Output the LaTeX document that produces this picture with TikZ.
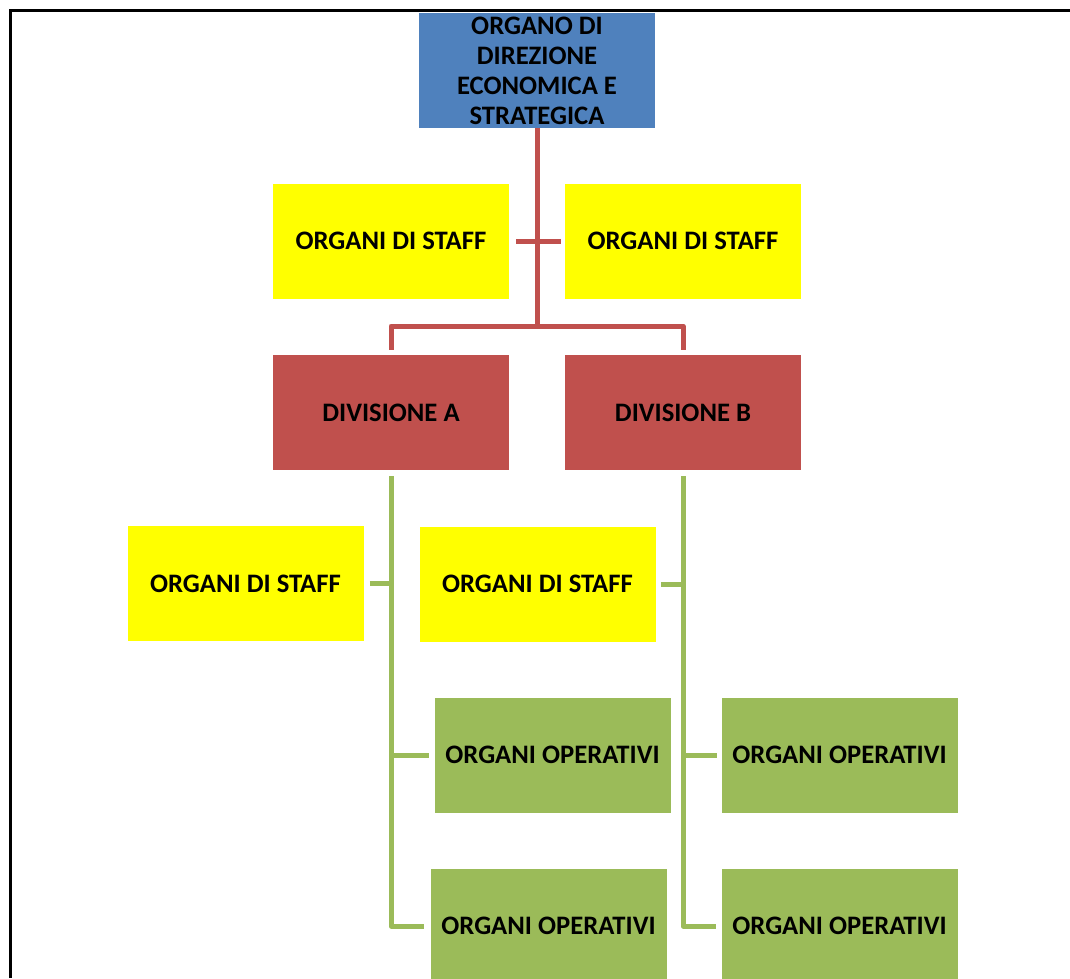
\documentclass[tikz,border=0pt]{standalone}
\usepackage{fontspec}
\setmainfont{Carlito}

\definecolor{dirblue}{HTML}{4F81BD}
\definecolor{staffyellow}{HTML}{FFFF00}
\definecolor{divred}{HTML}{C0504D}
\definecolor{opgreen}{HTML}{9BBB59}

\begin{document}
\begin{tikzpicture}[
        x=0.75pt,
        y=-0.75pt,
        orgbox/.style={rectangle, inner sep=0pt, minimum width=177pt, minimum height=86.25pt, text centered, font=\fontsize{20}{22.5}\selectfont\bfseries},
        direz/.style={orgbox, fill=dirblue, align=center},
        staff/.style={orgbox, fill=staffyellow},
        divis/.style={orgbox, fill=divred},
        oper/.style={orgbox, fill=opgreen},
        redline/.style={draw=divred, line width=3.75pt, line join=round},
        greenline/.style={draw=opgreen, line width=3.75pt, line join=round}
    ]
        \useasboundingbox (0,0) rectangle (1070,978);
        \clip (0,0) rectangle (1070,978);

        % Page frame
        \draw[line width=2.25pt] (10.5,978) -- (10.5,10.5) -- (1070,10.5);

        % Direzione
        \node[direz] (dir) at (537,70.5) {ORGANO DI\\DIREZIONE\\ECONOMICA E\\STRATEGICA};

        % Staff of the direzione
        \node[staff] (staff_l) at (391,241) {ORGANI DI STAFF};
        \node[staff] (staff_r) at (683,241) {ORGANI DI STAFF};

        % Divisioni
        \node[divis] (div_a) at (391,412.5) {DIVISIONE A};
        \node[divis] (div_b) at (683,412.5) {DIVISIONE B};

        % Staff of the divisioni
        \node[staff] (staff_a) at (245.5,583.5) {ORGANI DI STAFF};
        \node[staff] (staff_b) at (537.5,584) {ORGANI DI STAFF};

        % Organi operativi
        \node[oper] (op_a1) at (552.5,755) {ORGANI OPERATIVI};
        \node[oper] (op_a2) at (548.5,926) {ORGANI OPERATIVI};
        \node[oper] (op_b1) at (839.5,755) {ORGANI OPERATIVI};
        \node[oper] (op_b2) at (839.5,926) {ORGANI OPERATIVI};

        % Red tree
        \coordinate (fork) at (537,326);
        \draw[redline] (dir) -- (fork);
        \draw[redline, shorten <=3.75pt, shorten >=3.75pt] (div_a.north) |- (fork) -| (div_b.north);
        \draw[redline, shorten <=5.25pt, shorten >=3pt] (staff_l) -- (staff_r);

        % Green tree, divisione A
        \draw[greenline, shorten <=4.5pt, shorten >=4.5pt] (div_a.south) |- (op_a2.west);
        \draw[greenline, shorten >=3.75pt] (div_a.south |- op_a1.west) -- (op_a1.west);
        \draw[greenline, shorten <=4.5pt] (staff_a.east) -- (staff_a.east -| div_a.south);

        % Green tree, divisione B
        \draw[greenline, shorten <=4.5pt, shorten >=3.75pt] (div_b.south) |- (op_b2.west);
        \draw[greenline, shorten >=3pt] (div_b.south |- op_b1.west) -- (op_b1.west);
        \draw[greenline, shorten <=3.75pt] (staff_b.east) -- (staff_b.east -| div_b.south);

    \end{tikzpicture}
\end{document}
